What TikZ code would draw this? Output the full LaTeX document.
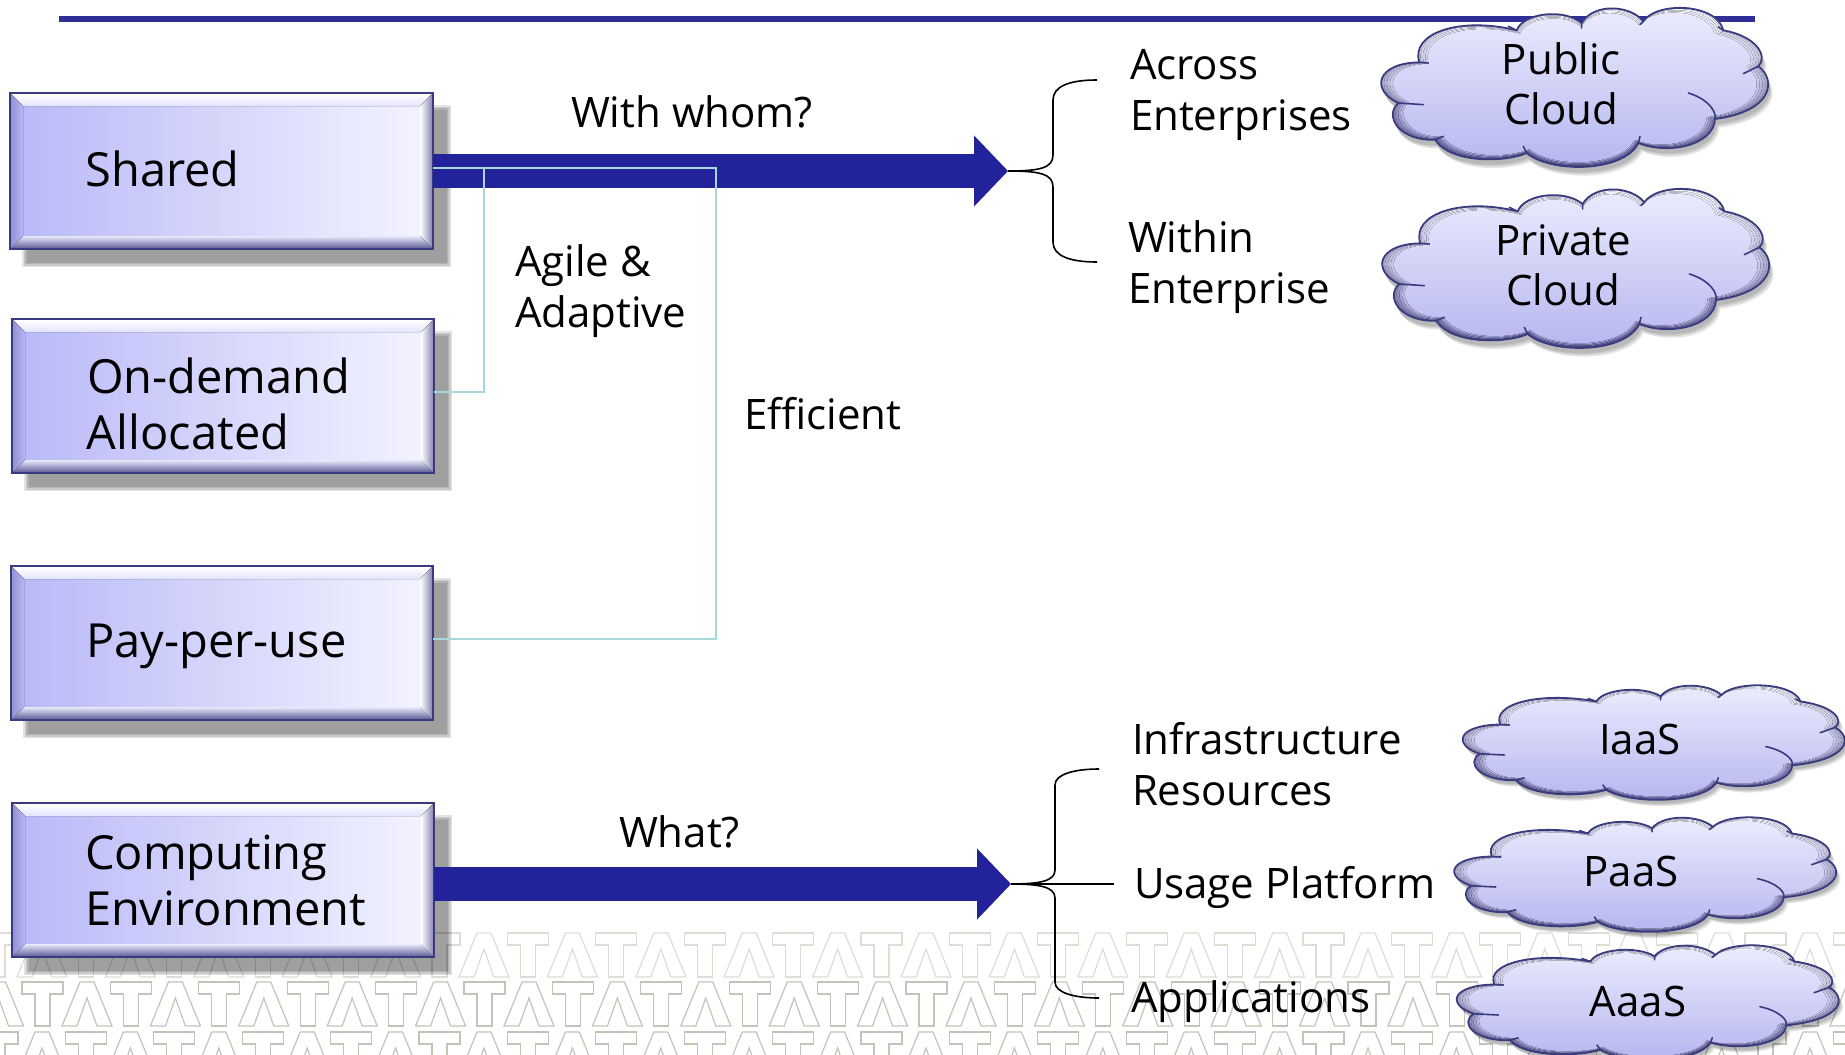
\documentclass[tikz,border=0pt]{standalone}
\usepackage{fontspec}
\setmainfont{Open Sans}
\usetikzlibrary{arrows.meta,calc}
\definecolor{rulecol}{HTML}{2E2E96}
\definecolor{arrowcol}{HTML}{22229A}
\definecolor{edgecol}{HTML}{3A3A80}
\definecolor{thincol}{HTML}{A8D8DC}
\definecolor{tatadark}{HTML}{C6C2B8}
\definecolor{tatalight}{HTML}{DEDCD4}
\definecolor{boxleft}{HTML}{B8B8F8}
\definecolor{boxright}{HTML}{F4F4FF}
\definecolor{cloudtop}{HTML}{ECECFE}
\definecolor{cloudbot}{HTML}{B6B6F0}
\tikzset{
  boxnode/.style={draw=edgecol,line width=2pt,left color=boxleft,right color=boxright,
    inner sep=0pt,outer sep=0pt,align=left,text width=344pt,
    font=\fontsize{47}{56}\selectfont},
  lbl/.style={inner sep=0pt,outer sep=0pt,align=left,anchor=base west,font=\fontsize{42}{51}\selectfont},
  cloudlbl/.style={inner sep=0pt,outer sep=0pt,align=center,font=\fontsize{42}{50}\selectfont},
  thin line/.style={draw=thincol,line width=1.4pt},
  bigarrow/.style={draw=arrowcol,line width=34pt,-{Triangle[length=34pt,width=69pt]}},
  arrowshade/.style={draw=black,opacity=.22,line width=34pt,-{Triangle[length=34pt,width=69pt]}},
  bracket/.style={draw=black,line width=1.6pt},
  tata/.style={draw=#1,line width=1.2pt,line join=miter},
}
\newcommand{\bevelbox}[6]{%
  \foreach \g in {3,1.5,0,-1.5}{
    \fill[black,opacity=.11] (#2+15-\g,#3+15-\g) rectangle (#4+15+\g,#5+15+\g);
  }
  \node[boxnode,minimum width={(#4-#2)*1pt},minimum height={(#5-#3)*1pt}] (#1)
     at ({(#2+#4)/2},{(#3+#5)/2}) {#6};
  % bevel bands
  \fill[top color=white,bottom color=white!60!boxleft] (#2+1,#3+1) -- (#4-1,#3+1) -- (#4-13,#3+13) -- (#2+13,#3+13) -- cycle;
  \fill[top color=white!70!boxleft,bottom color=edgecol!80] (#2+13,#5-13) -- (#4-13,#5-13) -- (#4-1,#5-1) -- (#2+1,#5-1) -- cycle;
  \fill[left color=boxleft!70!edgecol,right color=boxleft] (#2+1,#3+1) -- (#2+13,#3+13) -- (#2+13,#5-13) -- (#2+1,#5-1) -- cycle;
  \fill[left color=white,right color=edgecol!60] (#4-1,#3+1) -- (#4-13,#3+13) -- (#4-13,#5-13) -- (#4-1,#5-1) -- cycle;
  \draw[edgecol,line width=2pt] (#2,#3) rectangle (#4,#5);
}
\newcommand{\cloudpath}{%
  (-467,-77)
  .. controls (-495,-165) and (-345,-215) .. (-175,-173)
  .. controls (-155,-225) and (-35,-240) .. (20,-195)
  .. controls (55,-255) and (165,-250) .. (205,-200)
  .. controls (245,-260) and (425,-255) .. (445,-173)
  .. controls (545,-155) and (580,-95) .. (550,-65)
  .. controls (605,-25) and (595,70) .. (420,93)
  .. controls (415,175) and (275,200) .. (190,165)
  .. controls (145,255) and (-75,255) .. (-145,195)
  .. controls (-215,225) and (-375,225) .. (-420,155)
  .. controls (-525,160) and (-575,85) .. (-530,45)
  .. controls (-615,5) and (-595,-75) .. (-467,-77) -- cycle}
\newcommand{\makecloud}[4]{% cx cy sx sy
  \begin{scope}[shift={(#1,#2)},xscale=#3/3,yscale=#4/3]
    \foreach \g in {0,1,2}{
      \fill[black,opacity=.1,shift={(5+4*\g,16+5*\g)}] \cloudpath;
    }
    \fill[top color=white,bottom color=edgecol!90] \cloudpath;
    \foreach \s/\m in {.985/25,.97/50,.955/75,.94/100}{
      \begin{scope}[scale=\s]
        \fill[top color=cloudtop!\m!white,bottom color=cloudbot!\m!edgecol] \cloudpath;
      \end{scope}
    }
    \draw[edgecol,line width=1.8pt,line join=round] \cloudpath;
    \draw[edgecol,line width=1.6pt,line cap=round]
      (-530,45) -- (-455,50)
      (-420,155) -- (-395,145)
      (-145,195) -- (-155,175)
      (190,165) -- (195,145)
      (340,15) .. controls (405,35) and (425,75) .. (420,93)
      (550,-65) -- (505,-43)
      (-467,-77) -- (-440,-75)
      (-175,-173) -- (-200,-185)
      (20,-195) -- (20,-180)
      (205,-200) -- (195,-190)
      (445,-173) -- (430,-183);
  \end{scope}
}
\begin{document}
\begin{tikzpicture}[x=1pt,y=-1pt]
\clip (0,0) rectangle (1845,1055);
\fill[white] (0,0) rectangle (1845,1055);
% watermark
\foreach \rowy/\off/\col in {933/-23/tatalight,982/22/tatadark,1032/-23/tatadark}{
  \foreach \k in {-1,...,21}{
    \begin{scope}[shift={(\k*88.4+\off,\rowy)}]
      \draw[tata=\col] (0,0) -- (41,0) -- (41,12) -- (28,12) -- (28,44) -- (13,44) -- (13,12) -- (0,12) -- cycle;
      \draw[tata=\col] (40,44) -- (58,0) -- (72,0) -- (90,44) -- (75,44) -- (65,16) -- (55,44) -- cycle;
    \end{scope}
  }
}
% top rule
\fill[rulecol] (59,16) rectangle (1755,22);

% boxes
\bevelbox{shared}{10}{93}{433}{249}{\hspace*{36pt}Shared\rule[-4pt]{0pt}{0pt}}
\bevelbox{ondemand}{12}{319}{434}{473}{\hspace*{36pt}\rule{0pt}{52pt}On-demand\\\hspace*{36pt}Allocated}
\bevelbox{payuse}{11}{566}{433}{720}{\hspace*{36pt}\rule{0pt}{40pt}Pay-per-use}
\bevelbox{computing}{12}{803}{434}{957}{\hspace*{34pt}Computing\\\hspace*{34pt}Environment}

% bracket anchors
\coordinate (topTip) at (1008,171);
\coordinate (botTip) at (1011,884);
\coordinate (acrossEnd) at (1097,80);
\coordinate (withinEnd) at (1097,262);
\coordinate (infraEnd) at (1099,769);
\coordinate (usageEnd) at (1114,884);
\coordinate (appsEnd) at (1099,998);
\coordinate (sharedThin) at ([yshift=3pt]shared.east);
\coordinate (ondemandThin) at ([yshift=4pt]ondemand.east);
\coordinate (payThin) at ([yshift=4pt]payuse.east);

% big arrows
\draw[arrowshade,shift={(5,6)}] (shared.east |- topTip) -- (topTip);
\draw[arrowshade,shift={(5,6)}] (computing.east |- botTip) -- (botTip);
\draw[bigarrow] (shared.east |- topTip) -- (topTip);
\draw[bigarrow] (computing.east |- botTip) -- (botTip);

% thin connectors
\draw[thin line] (sharedThin) -| (ondemandThin -| 484,392) -- (ondemandThin);
\draw[thin line] (sharedThin) -| (payThin -| 716,639) -- (payThin);

% brackets
\draw[bracket] (topTip) .. controls (1040,171) and (1053,168) .. (1053,155) -- (1053,100)
   .. controls (1053,86) and (1070,80) .. (acrossEnd);
\draw[bracket] (topTip) .. controls (1040,171) and (1053,174) .. (1053,187) -- (1053,242)
   .. controls (1053,256) and (1070,262) .. (withinEnd);
\draw[bracket] (botTip) .. controls (1040,884) and (1055,881) .. (1055,870) -- (1055,785)
   .. controls (1055,774) and (1075,769) .. (infraEnd);
\draw[bracket] (botTip) -- (usageEnd);
\draw[bracket] (botTip) .. controls (1040,884) and (1055,887) .. (1055,898) -- (1055,982)
   .. controls (1055,993) and (1075,998) .. (appsEnd);

% clouds
\makecloud{1575}{88}{1}{1}
\makecloud{1576}{269}{1}{1}
\makecloud{1654}{743}{.987}{.72}
\makecloud{1645.5}{875}{.987}{.72}
\makecloud{1648}{1003}{.987}{.72}

% labels
\node[lbl] (withwhom) at (571,127) {With whom?};
\node[lbl] (agile) at (515,327) {Agile \&\\Adaptive};
\node[lbl] (efficient) at (744,429) {Efficient};
\node[lbl] (across) at (1130,130) {Across\\Enterprises};
\node[lbl] (within) at (1128,303) {Within\\Enterprise};
\node[lbl] (infra) at (1132,805) {Infrastructure\\Resources};
\node[lbl] (usage) at (1134,898) {Usage Platform};
\node[lbl] (apps) at (1131,1012) {Applications};
\node[lbl] (what) at (619,847) {What?};
\node[cloudlbl] (public) at (1561,84) {Public\\Cloud};
\node[cloudlbl] (private) at (1563,265) {Private\\Cloud};
\node[cloudlbl] (iaas) at (1640,739) {IaaS};
\node[cloudlbl] (paas) at (1631,871) {PaaS};
\node[cloudlbl] (aaas) at (1638,1001) {AaaS};
\end{tikzpicture}
\end{document}
